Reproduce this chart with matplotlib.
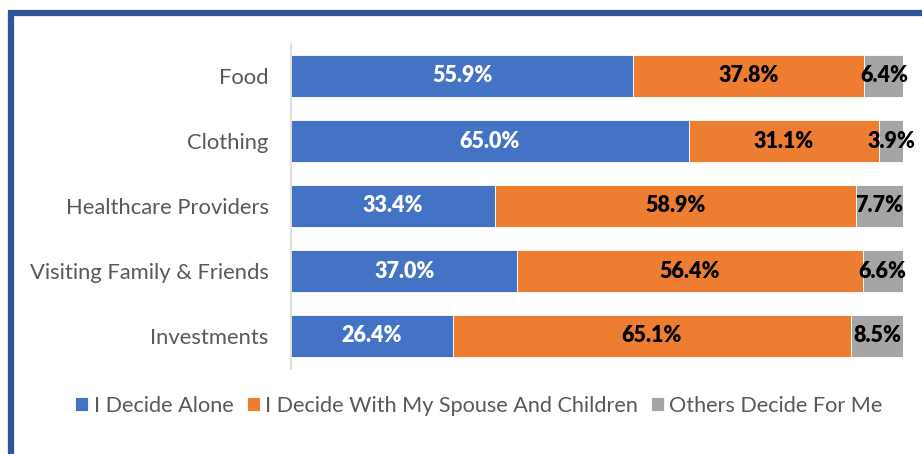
import numpy as np
import matplotlib.pyplot as plt
from matplotlib.patches import Rectangle

plt.rcParams['font.family'] = ['Lato', 'DejaVu Sans']

categories = ["Food", "Clothing", "Healthcare Providers",
              "Visiting Family & Friends", "Investments"]
alone = [55.9, 65.0, 33.4, 37.0, 26.4]
with_family = [37.8, 31.1, 58.9, 56.4, 65.1]
others = [6.4, 3.9, 7.7, 6.6, 8.5]

series = [
    ("I Decide Alone", alone, "#4472C4", "white"),
    ("I Decide With My Spouse And Children", with_family, "#ED7D31", "black"),
    ("Others Decide For Me", others, "#A5A5A5", "black"),
]

fig = plt.figure(figsize=(9.22, 4.54), dpi=100)
ax = fig.add_axes([291 / 922, 1 - 368.5 / 454, 612 / 922, 325 / 454])

y = np.arange(len(categories))
left = np.zeros(len(categories))
for name, vals, color, txt in series:
    vals = np.array(vals)
    bars = ax.barh(y, vals, left=left, height=0.66, color=color, label=name,
                   edgecolor="white", linewidth=0.6)
    for b, v in zip(bars, vals):
        ax.text(b.get_x() + b.get_width() / 2, b.get_y() + b.get_height() / 2,
                f"{v:.1f}%", ha="center", va="center", color=txt,
                fontsize=15.5, fontweight="heavy", clip_on=False)
    left += vals

ax.set_xlim(0, 100)
ax.set_ylim(len(categories) - 0.5, -0.5)
ax.set_yticks(y)
ax.set_yticklabels(categories, fontsize=15.8, color="#595959")
ax.tick_params(axis="y", length=0, pad=16)
ax.set_xticks([])
for s in ["top", "right", "bottom"]:
    ax.spines[s].set_visible(False)
ax.spines["left"].set_color("#D9D9D9")
ax.spines["left"].set_linewidth(1.2)

fig.legend(loc="center", bbox_to_anchor=(479 / 922, 1 - 406 / 454), ncol=3,
           frameon=False, fontsize=15.6, labelcolor="#595959",
           handlelength=0.6, handleheight=0.6, handletextpad=0.25,
           columnspacing=0.6)

# frame around the chart
fig.add_artist(Rectangle((11 / 922, -0.1), 1.2, 1 - 13.5 / 454 + 0.1,
                         transform=fig.transFigure, fill=False,
                         edgecolor="#2F5597", linewidth=4.5))

fig.savefig("out.png", dpi=100)
